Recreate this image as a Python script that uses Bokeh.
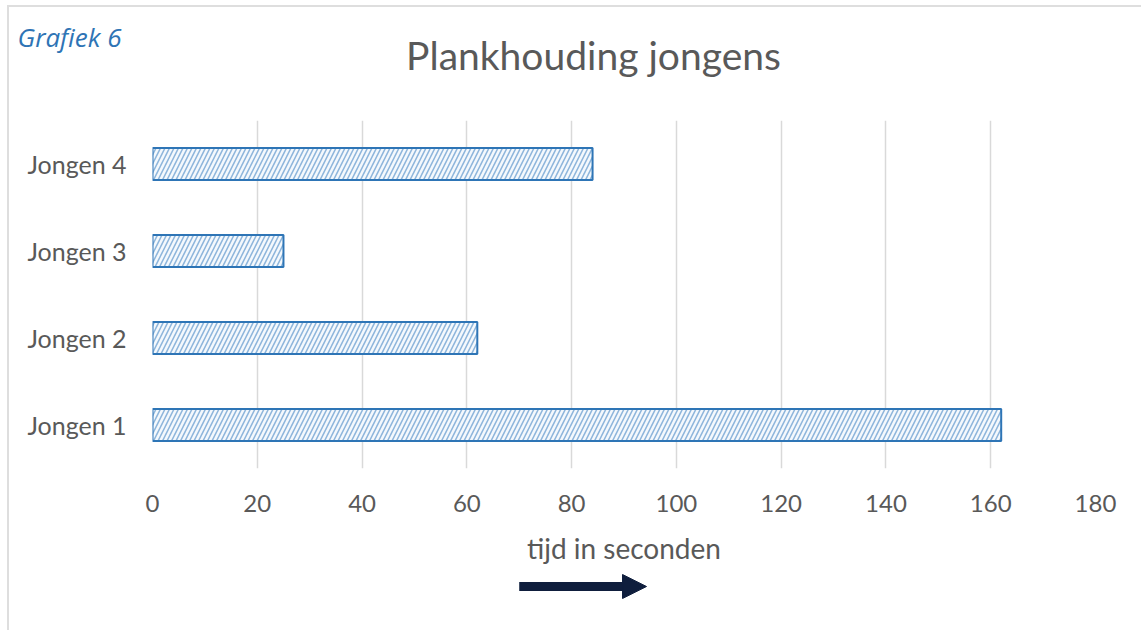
from bokeh.plotting import figure
from bokeh.layouts import column
from bokeh.models import Label, Arrow, NormalHead, FixedTicker, Range1d, FactorRange
from bokeh.embed import file_html
from bokeh.resources import INLINE

categories = ["Jongen 1", "Jongen 2", "Jongen 3", "Jongen 4"]
values = [162, 62, 25, 84]
x_ticks = [0, 20, 40, 60, 80, 100, 120, 140, 160, 180]

title_text = "Plankhouding jongens"
corner_text = "Grafiek 6"
x_label = "tijd in seconden"
arrow_from, arrow_to = 70, 94.3   # direction arrow below the axis label, in seconds

FONT = "Lato"
GREY = "#595959"
W = 1132
LEFT, RIGHT = 143, 46
FRAME_W = W - LEFT - RIGHT


def strip(height, x_range, y_range):
    fig = figure(width=W, height=height, x_range=x_range, y_range=y_range,
                 output_backend="svg", toolbar_location=None,
                 min_border_left=LEFT, min_border_right=RIGHT, min_border_top=0, min_border_bottom=0)
    fig.grid.grid_line_color = None
    fig.outline_line_color = None
    fig.xaxis.visible = False
    fig.yaxis.visible = False
    return fig


# --- header strip (1 data unit = 1 px, origin at the frame's top-left) ---
TOP_H = 113
top = strip(TOP_H, Range1d(0, FRAME_W), Range1d(TOP_H, 0))
top.add_layout(Label(x=441, y=47, text=title_text, text_font=FONT, text_font_size="39px",
                     text_color=GREY, text_align="center", text_baseline="middle"))
# "Grafiek 6" sits left of the frame: draw it as the left axis' single tick label
ya = top.yaxis[0]
ya.visible = True
ya.ticker = FixedTicker(ticks=[29])
ya.major_label_overrides = {29: corner_text}
ya.axis_line_color = None
ya.major_tick_line_color = None
ya.minor_tick_line_color = None
ya.major_label_standoff = 25
ya.major_label_text_font = "Open Sans"
ya.major_label_text_font_style = "italic"
ya.major_label_text_font_size = "26px"
ya.major_label_text_color = "#2e74b5"

# --- main bar chart ---
MAIN_H = 450
p = figure(width=W, height=MAIN_H, y_range=FactorRange(*categories), x_range=Range1d(0, 180),
           output_backend="svg", toolbar_location=None,
           min_border_left=LEFT, min_border_right=RIGHT, min_border_top=0, min_border_bottom=102)

p.hbar(y=categories, right=values, left=0, height=0.37,
       fill_color="#f5f9fd", line_color="#2e75b6", line_width=2,
       hatch_pattern="right_diagonal_line", hatch_color="#8fb6dc",
       hatch_weight=1.6, hatch_scale=9)

p.outline_line_color = None
p.ygrid.grid_line_color = None
p.xgrid.grid_line_color = "#d9d9d9"
p.xgrid.grid_line_width = 1.5
p.xaxis.ticker = FixedTicker(ticks=x_ticks)

for ax in (p.xaxis[0], p.yaxis[0]):
    ax.axis_line_color = None
    ax.major_tick_line_color = None
    ax.minor_tick_line_color = None
    ax.major_label_text_color = GREY
    ax.major_label_text_font = FONT

p.xaxis.major_label_text_font_size = "24px"
p.xaxis.major_label_standoff = 20
p.yaxis.major_label_text_font_size = "25px"
p.yaxis.major_label_standoff = 20

p.xaxis.axis_label = x_label
p.xaxis.axis_label_text_font = FONT
p.xaxis.axis_label_text_font_style = "normal"
p.xaxis.axis_label_text_font_size = "28px"
p.xaxis.axis_label_text_color = GREY
p.xaxis.axis_label_standoff = 16

# --- strip with the direction arrow, sharing the x scale ---
BOT_H = 60
bot = strip(BOT_H, p.x_range, Range1d(BOT_H, 0))
bot.add_layout(Arrow(x_start=arrow_from, y_start=16, x_end=arrow_to, y_end=16,
                     line_color="#0f1e3d", line_width=9,
                     end=NormalHead(size=24, fill_color="#0f1e3d", line_color="#0f1e3d")))

layout = column(top, p, bot, spacing=0)
layout.styles = {"border-top": "2px solid #dedede", "border-left": "2px solid #dedede",
                 "box-sizing": "border-box", "margin-left": "7px", "margin-top": "5px"}

open("out.html", "w").write(file_html(layout, INLINE))
